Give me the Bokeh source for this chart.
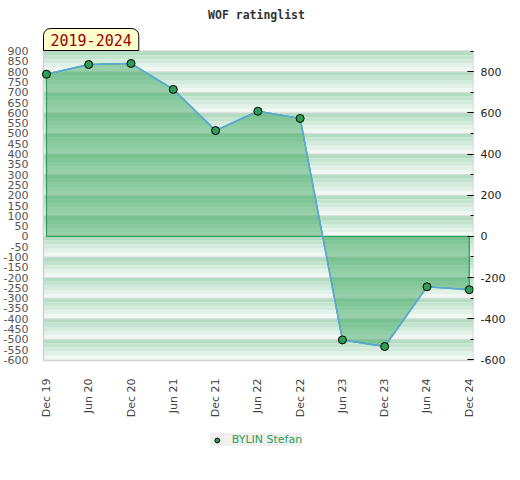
from bokeh.plotting import figure
from bokeh.models import (Range1d, LinearAxis, FixedTicker, Title, Legend, LegendItem)
from bokeh.embed import file_html
from bokeh.resources import INLINE
import math

# ---- data ----
periods = ["Dec 19", "Jun 20", "Dec 20", "Jun 21", "Dec 21", "Jun 22",
           "Dec 22", "Jun 23", "Dec 23", "Jun 24", "Dec 24"]
rating = [788, 835, 840, 714, 514, 608, 573, -503, -535, -245, -259]
player = "BYLIN Stefan"
chart_title = "WOF ratinglist"
span_label = "2019-2024"
y_min, y_max = -600, 900
left_ticks = list(range(y_min, y_max + 1, 50))
right_ticks = list(range(y_min, y_max + 1, 200))

xs = list(range(len(periods)))

# layout: data area is 430x310 px; the frame extends a little to the left and
# below it so that the x labels and the legend are not clipped
data_w, data_h = 430, 310
extra_left, frame_h = 4, 410
pad = 3
top = y_max + pad
bottom_data = y_min - pad
bottom = top - (top - bottom_data) * frame_h / data_h
x_lo, x_hi = -0.07, len(periods) - 1 + 0.1
x_start = x_lo - extra_left * (x_hi - x_lo) / data_w

p = figure(frame_width=data_w + extra_left, frame_height=frame_h, output_backend="svg",
           toolbar_location=None,
           x_range=Range1d(x_start, x_hi), y_range=Range1d(bottom, top),
           min_border_left=37 - extra_left, min_border_right=37,
           min_border_top=0, min_border_bottom=0,
           y_axis_location=None)
p.background_fill_color = "white"
p.border_fill_color = "white"
p.outline_line_color = None
p.xgrid.visible = False
p.ygrid.visible = False

# ---- titles ----
p.title.text = chart_title
p.title.align = "center"
p.title.text_font = "DejaVu Sans Mono"
p.title.text_font_style = "bold"
p.title.text_font_size = "11.5px"
p.title.text_color = "#333333"
p.title.standoff = 10
p.title.offset = 0

yr = Title(text=span_label, align="left", text_font="DejaVu Sans Mono",
           text_font_size="15px", text_font_style="normal", text_color="#990000",
           background_fill_color="#ffffcc", border_line_color="black",
           border_line_width=1, padding=(7, 5), standoff=0, offset=extra_left,
           border_radius=(7, 7, 0, 0))
p.add_layout(yr, "above")

# ---- striped background bands ----
shades = ["#b3dcc3", "#c3e4cf", "#d3ebdc", "#e3f2e8", "#f0f8f3"]
step = 100
nsub = len(shades)
bl, br, bt, bb, bc = [], [], [], [], []
v = y_max
while v > y_min:
    for i, c in enumerate(shades):
        t = v - i * step / nsub
        b = v - (i + 1) * step / nsub
        if i == 0 and v == y_max:
            t = top
        if i == nsub - 1 and v - step <= y_min:
            b = bottom_data
        bl.append(x_lo); br.append(x_hi)
        bt.append(t); bb.append(b); bc.append(c)
    v -= step
p.quad(left=bl, right=br, top=bt, bottom=bb, fill_color=bc, line_color=None)
p.segment(x0=x_lo, x1=x_hi, y0=list(range(y_min + step, y_max, step)),
          y1=list(range(y_min + step, y_max, step)), line_color="#dcdcdc", line_width=1)
# border of the data area
p.quad(left=[x_lo], right=[x_hi], top=[top], bottom=[bottom_data],
       fill_color=None, line_color="#d0d0d0", line_width=1.5)

# ---- area ----
px = [xs[0]] + xs + [xs[-1]]
py = [0] + rating + [0]
p.patch(px, py, fill_color="#39a55d", fill_alpha=0.48,
        line_color="#2ea05a", line_width=1.3)
p.line(xs, rating, line_color="#5ca8dc", line_width=1.6)
pts = p.scatter(xs, rating, size=8, fill_color="#2e9e55", line_color="black", line_width=1)

# ---- axes ----
left = LinearAxis(ticker=FixedTicker(ticks=left_ticks))
left.major_label_overrides = {t: str(t) for t in left_ticks}
left.axis_line_color = None
left.major_tick_line_color = None
left.minor_tick_line_color = None
left.major_label_standoff = 9 - extra_left
left.major_label_text_font = "DejaVu Sans"
left.major_label_text_font_size = "11px"
left.major_label_text_color = "#555555"
p.add_layout(left, "left")

right = LinearAxis(ticker=FixedTicker(ticks=right_ticks,
                                      minor_ticks=list(range(y_min, y_max + 1, 100))))
right.major_label_overrides = {t: str(t) for t in right_ticks}
right.axis_line_color = None
right.major_tick_in = 6
right.major_tick_out = 0
right.minor_tick_in = 3
right.minor_tick_out = 0
right.major_tick_line_color = "black"
right.minor_tick_line_color = "black"
right.major_label_standoff = 7
right.major_label_text_font = "DejaVu Sans"
right.major_label_text_font_size = "11px"
right.major_label_text_color = "#222222"
p.add_layout(right, "right")

p.xaxis.fixed_location = bottom_data
p.xaxis.ticker = FixedTicker(ticks=xs)
p.xaxis.major_label_overrides = {i: s for i, s in zip(xs, periods)}
p.xaxis.major_label_orientation = math.pi / 2
p.xaxis.axis_line_color = None
p.xaxis.major_tick_line_color = None
p.xaxis.minor_tick_line_color = None
p.xaxis.major_label_standoff = 12
p.xaxis.major_label_text_font = "DejaVu Sans"
p.xaxis.major_label_text_font_size = "11px"
p.xaxis.major_label_text_color = "#444444"

# ---- legend ----
legend = Legend(items=[LegendItem(label=player, renderers=[pts])],
                location="bottom_center", orientation="horizontal",
                background_fill_color="#f0f0f0", background_fill_alpha=1,
                border_line_color=None, label_text_color="#2ea05a",
                label_text_font="DejaVu Sans", label_text_font_size="11px",
                label_height=12, glyph_width=14, glyph_height=12, padding=4, margin=14,
                label_standoff=8)
p.add_layout(legend, "center")

open("out.html", "w").write(file_html(p, INLINE))
